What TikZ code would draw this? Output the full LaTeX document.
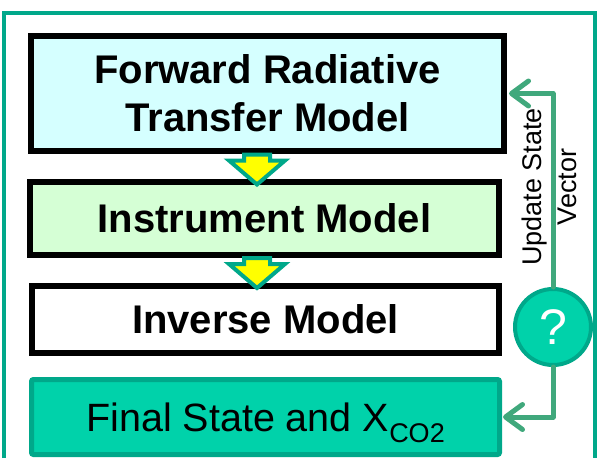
\documentclass[tikz,border=0pt]{standalone}
\usepackage{fontspec}
\setmainfont{Liberation Sans}
\usetikzlibrary{arrows.meta,backgrounds,calc}
\definecolor{frameteal}{RGB}{0,168,138}
\definecolor{fillteal}{RGB}{0,210,170}
\definecolor{conngreen}{RGB}{64,168,124}
\definecolor{fwfill}{RGB}{213,255,255}
\definecolor{insfill}{RGB}{213,255,213}
\definecolor{arryellow}{RGB}{255,255,0}
\tikzset{
  x=1pt,y=1pt,
  modelbox/.style={draw=black, line width=6pt, inner sep=0pt, align=center,
    font=\fontsize{40}{48}\selectfont\bfseries},
  finalbox/.style={draw=frameteal, fill=fillteal, line width=5pt, rounded corners=2pt,
    inner sep=0pt, font=\fontsize{39.5}{46}\selectfont},
  decision/.style={circle, draw=frameteal, fill=fillteal, line width=4pt, inner sep=0pt,
    minimum size=76pt, text=white, font=\fontsize{50}{50}\selectfont},
  conn/.style={draw=conngreen, line width=5pt},
  connarrow/.style={conn, line cap=round, line join=round,
    -{Straight Barb[length=17pt,width=25pt,round]}},
  blockarrow/.style={draw=frameteal, fill=arryellow, line width=4pt, line join=miter},
  frameline/.style={draw=frameteal, line width=3.5pt},
  sidelabel/.style={rotate=90, align=center, inner sep=0pt, font=\fontsize{27}{35}\selectfont}
}
\begin{document}
\begin{tikzpicture}
\useasboundingbox (0,0) rectangle (597,-458);
\fill[white] (0,0) rectangle (597,-458);
% outer frame
\draw[frameline] (4,-458) -- (4,-13) -- (595,-13) -- (595,-458);
% boxes
\node[modelbox, fill=fwfill, minimum width=473pt, minimum height=115pt] (fw) at (267.5,-93.5)
  {Forward Radiative\\Transfer Model};
\node[modelbox, fill=insfill, minimum width=469pt, minimum height=73pt] (ins) at (264.5,-218.5)
  {Instrument Model};
\node[modelbox, fill=white, minimum width=467pt, minimum height=67pt] (inv) at (265.5,-319.5)
  {Inverse Model};
\node[finalbox, minimum width=468pt, minimum height=75pt] (fin) at (265.5,-417)
  {Final State and X\raisebox{-11pt}[0pt][0pt]{\fontsize{27}{27}\selectfont CO2}};
% decision circle
\node[decision] (q) at (553,-327) {?};
% connectors
\begin{scope}[on background layer]
  \draw[conn] (inv.east) -- (inv.east -| q.center);
\end{scope}
\draw[connarrow] (q.north) |- ($(fw.east)+(2,0)$);
\draw[connarrow] (q.south) |- ($(fin.east)+(1,0)$);
\node[sidelabel] (lbl) at (549,-187) {Update State\\Vector};
% block arrows
\coordinate (a1) at ($(fw.south)+(-10.5,-0.5)$);
\coordinate (a2) at ($(ins.south)+(-7.5,0)$);
\foreach \a in {a1,a2}{
  \draw[blockarrow] (\a) ++(-13,0) -- ++(26,0) -- ++(0,-6) -- ++(15,0)
    -- ++(-28,-24) -- ++(-28,24) -- ++(15,0) -- cycle;
}
\end{tikzpicture}
\end{document}
